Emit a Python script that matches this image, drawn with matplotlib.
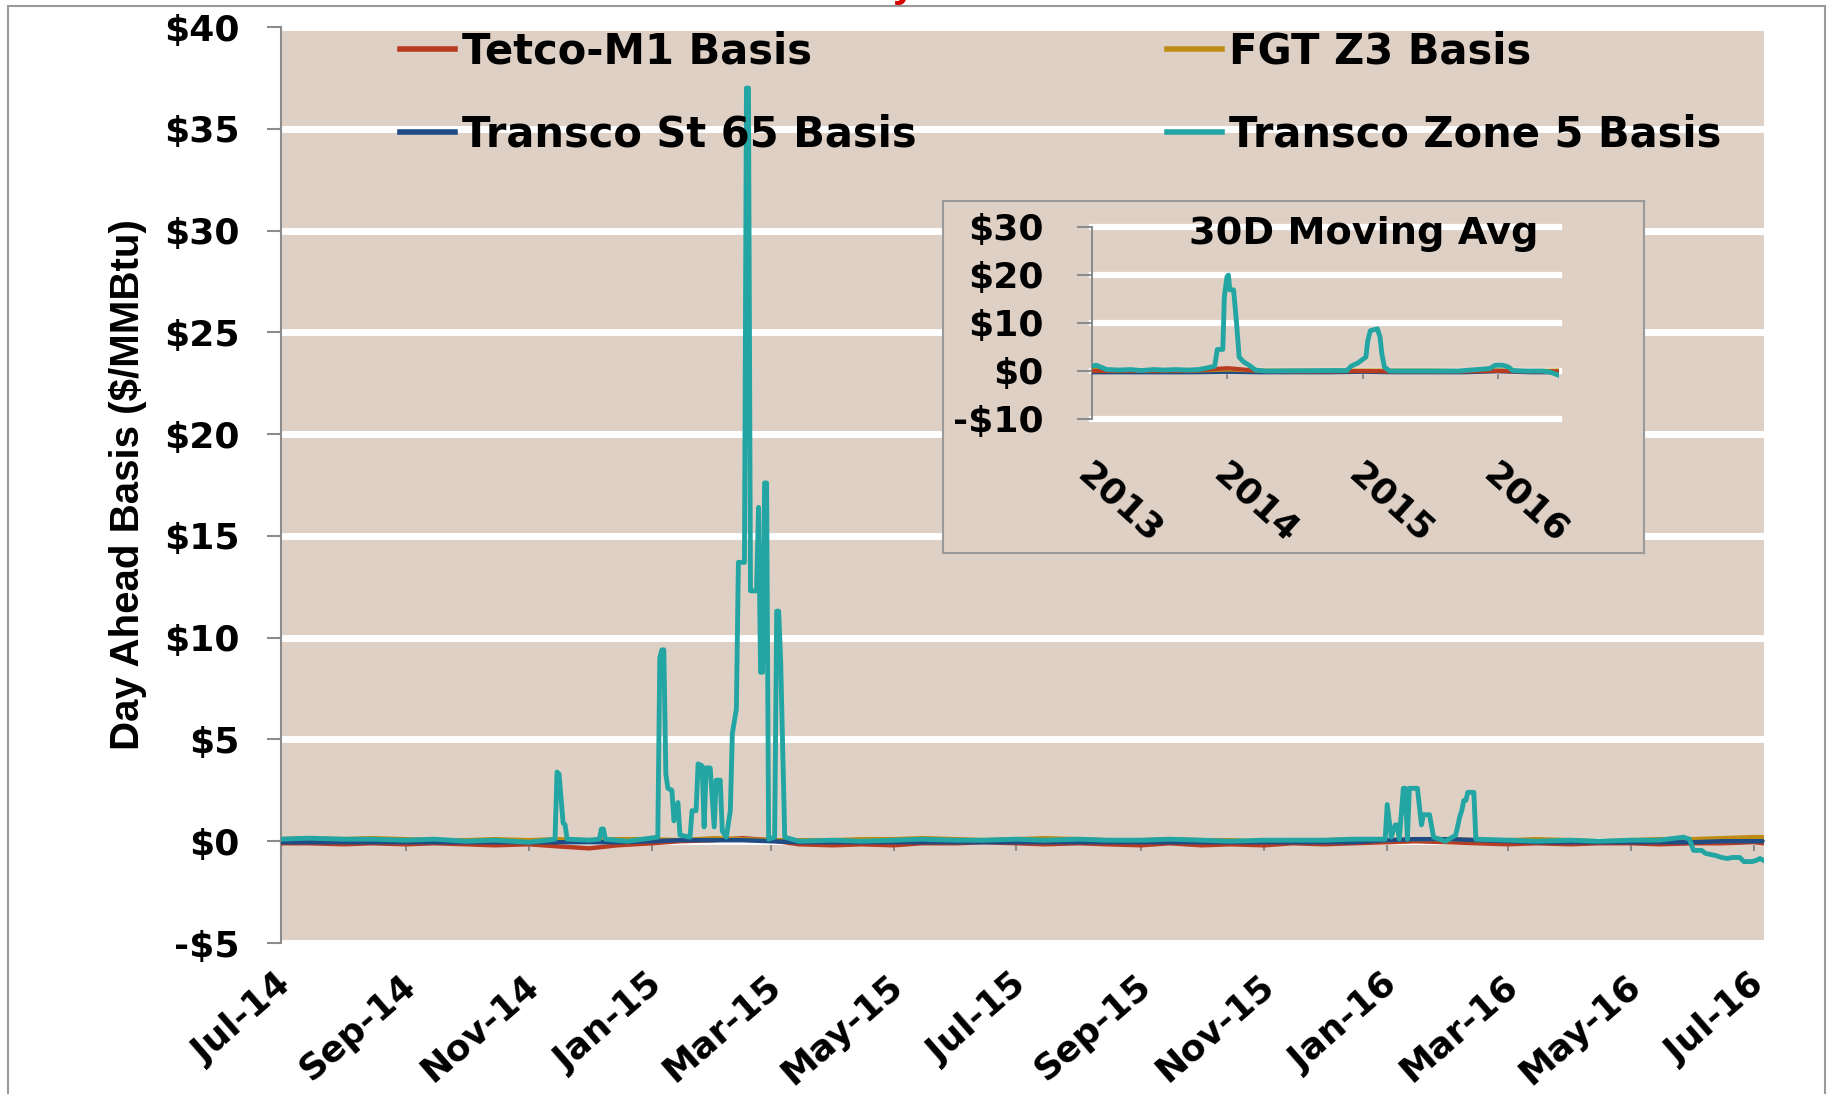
import numpy as np
import pandas as pd
import matplotlib
matplotlib.use("Agg")
import matplotlib.pyplot as plt
import matplotlib.dates as mdates
from matplotlib.ticker import FuncFormatter, FixedLocator
from matplotlib.transforms import ScaledTranslation
from matplotlib.patches import Rectangle

# ---------------- data ----------------
series_names = ["Tetco-M1 Basis", "FGT Z3 Basis", "Transco St 65 Basis", "Transco Zone 5 Basis"]
colors = ["#B83C22", "#BE8C14", "#1F4C85", "#23A6A3"]

# semi-monthly points (1st and 15th) Jul-14 .. Jul-16, plus last day
base_dates = list(pd.date_range("2014-07-01", "2016-07-01", freq="SMS")) + [pd.Timestamp("2016-07-06")]
tetco = [-0.1, -0.1, -0.15, -0.1, -0.15, -0.1, -0.15, -0.2, -0.15, -0.25, -0.35, -0.2,
         -0.1, 0.0, 0.05, 0.15, 0.05, -0.15, -0.2, -0.15, -0.2, -0.1, -0.1, -0.05,
         -0.1, -0.15, -0.1, -0.15, -0.2, -0.1, -0.2, -0.15, -0.2, -0.1, -0.15, -0.1,
         -0.05, 0.0, -0.05, -0.1, -0.15, -0.1, -0.15, -0.1, -0.1, -0.15, -0.1, -0.1,
         -0.05, -0.1]
fgt = [0.1, 0.15, 0.1, 0.15, 0.1, 0.05, 0.05, 0.1, 0.05, 0.1, 0.05, 0.1,
       0.1, 0.05, 0.15, 0.1, 0.05, 0.05, 0.05, 0.1, 0.1, 0.15, 0.1, 0.05,
       0.1, 0.15, 0.1, 0.05, 0.05, 0.1, 0.05, 0.05, 0.0, 0.05, 0.05, 0.1,
       0.05, 0.1, 0.1, 0.05, 0.05, 0.1, 0.05, 0.0, 0.05, 0.1, 0.1, 0.15,
       0.2, 0.2]
st65 = [-0.05, -0.05, -0.05, -0.05, -0.05, -0.05, -0.05, -0.05, -0.05, -0.05, -0.05, -0.05,
        0.0, 0.05, 0.05, 0.05, 0.0, -0.05, -0.05, -0.05, -0.05, -0.05, -0.05, -0.05,
        -0.05, -0.05, -0.05, -0.05, -0.05, -0.05, -0.05, -0.05, -0.05, -0.05, -0.05, -0.05,
        0.05, 0.1, 0.1, 0.05, 0.0, -0.05, -0.05, -0.05, -0.05, -0.05, -0.05, 0.0,
        0.0, 0.0]

z5_dates = [
    "2014-07-01", "2014-07-15", "2014-08-01", "2014-08-15", "2014-09-01", "2014-09-15",
    "2014-10-01", "2014-10-15", "2014-11-01", "2014-11-10", "2014-11-14", "2014-11-15",
    "2014-11-16", "2014-11-18", "2014-11-19", "2014-11-20", "2014-12-01", "2014-12-06",
    "2014-12-07", "2014-12-08", "2014-12-09", "2014-12-20", "2015-01-04", "2015-01-05",
    "2015-01-06", "2015-01-07", "2015-01-08", "2015-01-09", "2015-01-11", "2015-01-12",
    "2015-01-14", "2015-01-15", "2015-01-20", "2015-01-21", "2015-01-23", "2015-01-24",
    "2015-01-26", "2015-01-27", "2015-01-28", "2015-01-30", "2015-02-01", "2015-02-02",
    "2015-02-04", "2015-02-05", "2015-02-07", "2015-02-09", "2015-02-10", "2015-02-12",
    "2015-02-13", "2015-02-16", "2015-02-17", "2015-02-18", "2015-02-19", "2015-02-22",
    "2015-02-23", "2015-02-24", "2015-02-25", "2015-02-26", "2015-02-27", "2015-02-28",
    "2015-03-03", "2015-03-04", "2015-03-05", "2015-03-06", "2015-03-08", "2015-03-15",
    "2015-04-01", "2015-04-15", "2015-05-01", "2015-05-15", "2015-06-01", "2015-06-15",
    "2015-07-01", "2015-07-15", "2015-08-01", "2015-08-15", "2015-09-01", "2015-09-15",
    "2015-10-01", "2015-10-15", "2015-11-01", "2015-11-15", "2015-12-01", "2015-12-15",
    "2015-12-31", "2016-01-01", "2016-01-03", "2016-01-05", "2016-01-06", "2016-01-07",
    "2016-01-09", "2016-01-10", "2016-01-11", "2016-01-12", "2016-01-16", "2016-01-18",
    "2016-01-19", "2016-01-22", "2016-01-24", "2016-01-30", "2016-02-04", "2016-02-06",
    "2016-02-07", "2016-02-08", "2016-02-09", "2016-02-10", "2016-02-13", "2016-02-14",
    "2016-03-01", "2016-03-15", "2016-04-01", "2016-04-15", "2016-05-01", "2016-05-15",
    "2016-05-27", "2016-05-30", "2016-06-01", "2016-06-05", "2016-06-07", "2016-06-12",
    "2016-06-15", "2016-06-18", "2016-06-20", "2016-06-24", "2016-06-26", "2016-06-30",
    "2016-07-02", "2016-07-04", "2016-07-06"]
z5_vals = [
    0.1, 0.15, 0.1, 0.1, 0.05, 0.1,
    0.0, 0.05, -0.05, 0.05, 0.1, 3.4,
    3.3, 0.9, 0.8, 0.1, 0.05, 0.1,
    0.6, 0.6, 0.1, 0.0, 0.2, 9.0,
    9.4, 9.4, 3.3, 2.6, 2.5, 1.0,
    1.9, 0.3, 0.2, 1.5, 1.5, 3.8,
    3.7, 0.7, 3.6, 3.6, 0.7, 3.0,
    3.0, 0.5, 0.2, 1.5, 5.3, 6.5,
    13.7, 13.7, 37.0, 37.0, 12.3, 12.3,
    16.4, 8.3, 8.3, 17.6, 17.6, 0.1,
    0.2, 11.3, 11.3, 8.8, 0.2, 0.0,
    0.05, 0.0, 0.05, 0.1, 0.05, 0.05,
    0.1, 0.05, 0.1, 0.05, 0.05, 0.1,
    0.05, 0.0, 0.05, 0.05, 0.05, 0.1,
    0.1, 1.8, 0.2, 0.8, 0.8, 0.1,
    2.6, 2.6, 0.1, 2.6, 2.6, 0.8,
    1.3, 1.3, 0.2, 0.0, 0.3, 1.2,
    1.5, 2.0, 2.0, 2.4, 2.4, 0.1,
    0.05, 0.0, 0.05, 0.0, 0.05, 0.05,
    0.2, 0.1, -0.45, -0.45, -0.6, -0.7,
    -0.8, -0.85, -0.8, -0.8, -1.0, -1.0,
    -0.95, -0.85, -0.95]

# inset: 30-day moving averages
inset_base_dates = ["2013-01-01", "2013-04-01", "2013-07-01", "2013-10-01", "2014-01-01",
                    "2014-04-01", "2014-07-01", "2014-10-01", "2015-01-01", "2015-04-01",
                    "2015-07-01", "2015-10-01", "2016-01-01", "2016-04-01", "2016-06-14"]
inset_tetco = [0.0, 0.0, 0.0, 0.1, 0.6, 0.0, -0.1, -0.1, 0.0, -0.1, -0.1, -0.1, 0.0, -0.1, -0.1]
inset_fgt = [0.2, 0.1, 0.2, 0.1, 0.3, 0.1, 0.1, 0.1, 0.1, 0.1, 0.1, 0.0, 0.1, 0.0, 0.1]
inset_st65 = [-0.2, -0.2, -0.2, -0.2, -0.1, -0.2, -0.2, -0.2, -0.1, -0.2, -0.2, -0.2, 0.0, -0.2, -0.2]
inset_z5_dates = [
    "2013-01-01", "2013-01-12", "2013-01-25", "2013-02-10", "2013-03-15", "2013-04-15",
    "2013-05-15", "2013-06-15", "2013-07-15", "2013-08-15", "2013-09-15", "2013-10-15",
    "2013-11-05", "2013-11-28", "2013-12-05", "2013-12-20", "2013-12-24", "2013-12-31",
    "2014-01-04", "2014-01-08", "2014-01-18", "2014-01-26", "2014-02-02", "2014-02-14",
    "2014-03-01", "2014-03-18", "2014-04-15", "2014-07-15", "2014-10-15", "2014-11-20",
    "2014-12-01", "2014-12-20", "2015-01-01", "2015-01-10", "2015-01-15", "2015-01-22",
    "2015-02-10", "2015-02-17", "2015-02-22", "2015-03-01", "2015-03-15", "2015-06-15",
    "2015-09-15", "2015-12-10", "2015-12-25", "2016-01-15", "2016-01-30", "2016-02-10",
    "2016-03-15", "2016-04-30", "2016-05-20", "2016-06-14"]
inset_z5 = [
    1.0, 1.2, 0.8, 0.3, 0.2, 0.3,
    0.1, 0.3, 0.2, 0.3, 0.2, 0.3,
    0.6, 1.0, 4.5, 4.5, 15.4, 19.6,
    20.0, 16.9, 16.9, 10.0, 2.9, 1.9,
    1.2, 0.2, 0.0, 0.05, 0.1, 0.1,
    1.0, 1.7, 2.4, 2.9, 6.3, 8.4,
    8.8, 7.1, 3.6, 0.8, 0.0, 0.0,
    0.0, 0.5, 1.2, 1.2, 0.8, 0.1,
    0.0, 0.0, -0.2, -0.9]

y_ticks = [-5, 0, 5, 10, 15, 20, 25, 30, 35, 40]
inset_y_ticks = [-10, 0, 10, 20, 30]

# ---------------- styling ----------------
BG = "#DFD0C5"
GRAY = "#8C8C8C"
W, H = 1833, 1094
BOLD = dict(family="DejaVu Sans", weight="bold")

def money(v, pos=None):
    return f"-${abs(v):.0f}" if v < 0 else f"${v:.0f}"

fig = plt.figure(figsize=(W / 100, H / 100), dpi=100)
fig.patch.set_facecolor("white")

def fbox(x0, y0, x1, y1):
    return [x0 / W, 1 - y1 / H, (x1 - x0) / W, (y1 - y0) / H]

# ---------------- main axes ----------------
AX_L, AX_R = 281, 1764
ax = fig.add_axes(fbox(AX_L, 27, AX_R, 943))
ax.set_facecolor(BG)

bd = pd.to_datetime(base_dates)
h_tetco, = ax.plot(bd, tetco, color=colors[0], lw=3.2, label=series_names[0], zorder=3)
h_fgt, = ax.plot(bd, fgt, color=colors[1], lw=3.2, label=series_names[1], zorder=3)
h_st65, = ax.plot(bd, st65, color=colors[2], lw=3.2, label=series_names[2], zorder=4)
h_z5, = ax.plot(pd.to_datetime(z5_dates), z5_vals, color=colors[3], lw=3.5,
                label=series_names[3], zorder=5)

ax.set_ylim(-5, 40)
ax.set_xlim(pd.Timestamp("2014-07-01"), pd.Timestamp("2016-07-06"))
ax.yaxis.set_major_locator(FixedLocator(y_ticks))
ax.yaxis.set_major_formatter(FuncFormatter(money))
ax.grid(axis="y", color="white", lw=5, zorder=1)
ax.grid(axis="x", visible=False)
ax.set_axisbelow(True)
for s in ["top", "right", "bottom"]:
    ax.spines[s].set_visible(False)
ax.spines["left"].set_color(GRAY)
ax.spines["left"].set_linewidth(1.5)
ax.tick_params(axis="y", length=10, width=1.5, color=GRAY, pad=20)
for t in ax.get_yticklabels():
    t.set_fontsize(26)
    t.set_fontweight("bold")

ax.xaxis.set_major_locator(mdates.MonthLocator(bymonth=[1, 3, 5, 7, 9, 11]))
ax.xaxis.set_major_formatter(mdates.DateFormatter("%b-%y"))
ax.tick_params(axis="x", length=0, pad=18)
off = ScaledTranslation(-6 / 100, 0, fig.dpi_scale_trans)
for t in ax.get_xticklabels():
    t.set_rotation(41)
    t.set_ha("right")
    t.set_va("top")
    t.set_rotation_mode("anchor")
    t.set_fontsize(26)
    t.set_fontweight("bold")
    t.set_transform(t.get_transform() + off)

# x axis line + ticks at y = 0
sec = ax.secondary_xaxis(5 / 45)
sec.xaxis.set_major_locator(mdates.MonthLocator(bymonth=[1, 3, 5, 7, 9, 11]))
sec.tick_params(axis="x", length=7, width=1.5, color=GRAY, labelbottom=False, direction="out")
sec.spines["bottom"].set_color(GRAY)
sec.spines["bottom"].set_linewidth(1.5)

ax.set_ylabel("Day Ahead Basis ($/MMBtu)", family="Liberation Sans", weight="bold",
              fontsize=29)
ax.yaxis.set_label_coords((147 - AX_L) / (AX_R - AX_L), 0.5)

leg = ax.legend(handles=[h_tetco, h_st65, h_fgt, h_z5], ncol=2, frameon=False,
                loc="upper left", bbox_to_anchor=(400 / W, 1 - 31 / H),
                bbox_transform=fig.transFigure, borderpad=0, borderaxespad=0,
                handlelength=1.32, handletextpad=0.17, columnspacing=6.0,
                labelspacing=0.97, prop=dict(family="DejaVu Sans", weight="bold", size=30))
for l in leg.get_lines():
    l.set_linewidth(4)

# ---------------- inset frame ----------------
frame = fig.add_axes(fbox(943, 201, 1644, 553))
frame.set_facecolor(BG)
frame.set_xticks([])
frame.set_yticks([])
for s in frame.spines.values():
    s.set_color("#9A9A9A")
    s.set_linewidth(1.5)
frame.set_zorder(10)

ins = fig.add_axes(fbox(1092, 227, 1559, 419))
ins.set_zorder(11)
ins.set_facecolor(BG)
ins.plot(pd.to_datetime(inset_base_dates), inset_st65, color=colors[2], lw=3.5, zorder=3)
ins.plot(pd.to_datetime(inset_base_dates), inset_fgt, color=colors[1], lw=3, zorder=3)
ins.plot(pd.to_datetime(inset_base_dates), inset_tetco, color=colors[0], lw=3, zorder=3)
ins.plot(pd.to_datetime(inset_z5_dates), inset_z5, color=colors[3], lw=3.5, zorder=4)
ins.set_ylim(-10, 30)
ins.set_xlim(pd.Timestamp("2013-01-01"), pd.Timestamp("2016-06-14"))
ins.yaxis.set_major_locator(FixedLocator(inset_y_ticks))
ins.yaxis.set_major_formatter(FuncFormatter(money))
ins.grid(axis="y", color="white", lw=4.5, zorder=1)
ins.set_axisbelow(True)
for gl in ins.get_ygridlines():
    gl.set_clip_on(False)
for s in ["top", "right", "bottom"]:
    ins.spines[s].set_visible(False)
ins.spines["left"].set_color(GRAY)
ins.spines["left"].set_linewidth(1.5)
ins.tick_params(axis="y", length=11, width=1.5, color=GRAY, pad=24)
for t in ins.get_yticklabels():
    t.set_fontsize(26)
    t.set_fontweight("bold")
ins.xaxis.set_major_locator(mdates.YearLocator())
ins.xaxis.set_major_formatter(mdates.DateFormatter("%Y"))
ins.tick_params(axis="x", length=0, pad=27)
off2 = ScaledTranslation(2 / 100, 0, fig.dpi_scale_trans)
for t in ins.get_xticklabels():
    t.set_rotation(-42)
    t.set_ha("left")
    t.set_va("top")
    t.set_rotation_mode("anchor")
    t.set_fontsize(26)
    t.set_fontweight("bold")
    t.set_transform(t.get_transform() + off2)
isec = ins.secondary_xaxis(10 / 40)
isec.xaxis.set_major_locator(mdates.YearLocator())
isec.tick_params(axis="x", length=6, width=1.5, color=GRAY, labelbottom=False)
isec.spines["bottom"].set_color(GRAY)
isec.spines["bottom"].set_linewidth(1.5)
ins.text(0.582, 0.912, "30D Moving Avg", transform=ins.transAxes, ha="center",
         va="baseline", fontsize=27.5, zorder=6, **BOLD)

# ---------------- figure decorations ----------------
fig.patches.append(Rectangle((8 / W, -0.01), (1825 - 8) / W, 1.01 - 5.5 / H,
                             transform=fig.transFigure, fill=False,
                             edgecolor="#9A9A9A", lw=1.5, zorder=0))
fig.text(893 / W, 1 + 4 / H, "y", color="#D40000", fontsize=30, family="Liberation Sans",
         weight="bold", ha="left", va="baseline")

fig.savefig("out.png", dpi=100)
